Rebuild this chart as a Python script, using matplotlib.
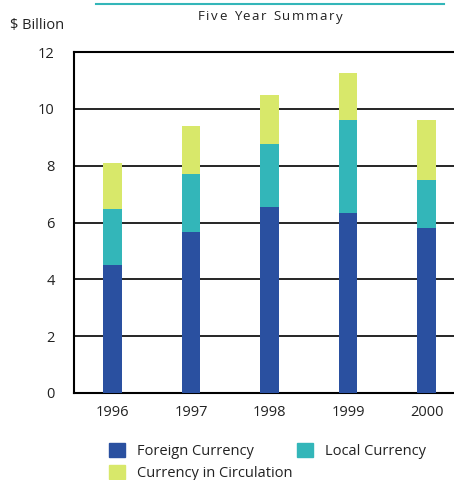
import matplotlib.pyplot as plt
from matplotlib.lines import Line2D
from matplotlib.patches import Patch
import numpy as np

plt.rcParams['font.family'] = ['Open Sans', 'DejaVu Sans']

years = ['1996', '1997', '1998', '1999', '2000']
foreign = [4.5, 5.65, 6.55, 6.35, 5.8]
local = [1.98, 2.05, 2.22, 3.25, 1.7]
circulation = [1.6, 1.7, 1.7, 1.67, 2.1]

blue = '#2a50a0'
teal = '#33b6b9'
yellow = '#d8e86a'
ink = '#222222'

fig = plt.figure(figsize=(4.54, 4.8), dpi=100)
ax = fig.add_axes([74 / 454, 87 / 480, 380 / 454, 341 / 480])

x = np.arange(len(years))
w = 0.24
ax.bar(x, foreign, w, color=blue, zorder=3)
ax.bar(x, local, w, bottom=foreign, color=teal, zorder=3)
ax.bar(x, circulation, w, bottom=np.add(foreign, local), color=yellow, zorder=3)

ax.set_ylim(0, 12)
ax.set_xlim(-0.49, 4.35)
ax.set_yticks(range(0, 13, 2))
ax.set_xticks(x, years)
for v in range(2, 12, 2):
    ax.axhline(v, color='black', lw=1.2, zorder=1)
ax.tick_params(length=0, labelsize=10.5, colors=ink)
ax.tick_params(axis='y', pad=14)
ax.tick_params(axis='x', pad=9)
for s in ['left', 'bottom', 'top']:
    ax.spines[s].set_linewidth(1.5)
ax.spines['right'].set_visible(False)

fig.text(10 / 454, 1 - 26 / 480, '$ Billion', fontsize=10.5, va='center', color=ink)

# letter-spaced heading, laid out one glyph at a time
title = 'Five Year Summary'
renderer = fig.canvas.get_renderer()
tracking = 1.5
parts = []
for ch in title:
    t = fig.text(0, 1 - 17 / 480, ch, fontsize=9.5, va='center', color=ink,
                 fontweight='medium')
    parts.append((t, t.get_window_extent(renderer).width if ch != ' ' else 4.5))
total = sum(wd for _, wd in parts) + tracking * (len(parts) - 1)
xpos = 270 - total / 2
for t, wd in parts:
    t.set_x(xpos / 454)
    xpos += wd + tracking

fig.add_artist(Line2D([96 / 454, 444 / 454], [1 - 4 / 480, 1 - 4 / 480],
                      color=teal, lw=1.5))

handles = [Patch(color=blue, label='Foreign Currency'),
           Patch(color=yellow, label='Currency in Circulation'),
           Patch(color=teal, label='Local Currency')]
fig.legend(handles=handles, ncol=2, loc='upper left',
           bbox_to_anchor=(102 / 454, 1 - 436 / 480), frameon=False,
           fontsize=10.5, handlelength=1.1, handleheight=1.1,
           columnspacing=0.3, handletextpad=0.8, labelspacing=0.42,
           borderpad=0, labelcolor=ink)

fig.savefig('out.png', dpi=100)
